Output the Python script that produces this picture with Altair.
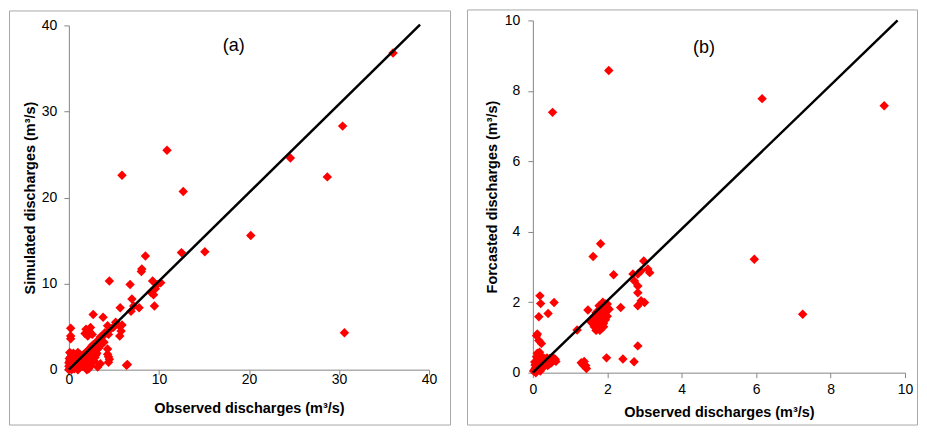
import altair as alt
import pandas as pd

# ---------------- data ----------------
# Panel (a): observed vs simulated discharges
a_obs = [36.0, 30.4, 30.6, 28.7, 24.6, 20.2, 15.1, 12.5, 12.7, 10.9, 5.9,
         8.5, 8.1, 8.05, 4.5, 6.8, 9.3, 9.8, 9.6, 10.2, 9.1, 9.4, 7.0, 9.5, 5.7, 7.8, 6.9, 7.2, 2.7, 3.8,
         5.2, 5.6, 5.8, 5.65, 5.0, 5.9, 4.3, 4.6, 4.0, 4.4, 4.9, 3.9, 3.5,
         0.2, 0.2, 0.2, 1.9, 2.4, 2.1, 2.6, 1.8, 2.3,
         3.2, 3.7, 3.9, 4.3, 3.0, 3.5, 2.8, 3.3, 2.6, 2.9, 3.1, 4.4, 4.5, 4.3, 4.4, 6.5, 6.4,
         0.1, 0.2, 0.3, 0.4, 0.5, 0.6, 0.7, 0.8, 0.9, 1.0, 1.1, 1.2, 1.3, 1.4, 1.5, 1.6, 1.7, 1.8, 1.9,
         2.0, 2.1, 2.2, 2.3, 2.4, 2.5, 2.7,
         0.1, 0.2, 0.1, 0.3, 0.5, 0.6, 0.8, 1.0, 1.2, 0.4, 0.7, 0.9,
         0.3, 0.6, 0.9, 1.2, 1.5, 1.8, 2.0, 2.2, 2.4, 2.6, 2.1, 1.7, 1.4, 1.1, 2.8, 2.5, 2.3, 1.9,
         2.6, 2.9, 3.0, 2.0, 2.2, 1.0,
         0.0, 0.0, 0.05, 0.0, 0.15, 3.5, 3.2]
a_sim = [36.8, 28.3, 4.3, 22.4, 24.6, 15.6, 13.7, 13.6, 20.7, 25.5, 22.6,
         13.2, 11.7, 11.4, 10.3, 9.9, 10.3, 9.9, 9.4, 10.1, 9.0, 8.7, 8.2, 7.4, 7.2, 7.2, 6.8, 7.4, 6.4, 6.1,
         5.5, 5.1, 4.5, 3.9, 5.0, 5.2, 5.1, 4.7, 4.3, 4.1, 4.9, 4.0, 3.8,
         4.8, 3.9, 3.6, 4.7, 4.9, 3.9, 4.1, 4.2, 4.4,
         3.4, 3.0, 3.2, 2.4, 3.0, 2.8, 2.6, 2.5, 2.2, 2.0, 1.9, 1.5, 1.2, 1.8, 0.85, 0.6, 0.5,
         0.1, 0.3, 0.2, 0.5, 0.3, 0.7, 0.5, 0.9, 0.6, 1.1, 0.8, 1.3, 1.0, 1.5, 1.2, 1.7, 1.4, 1.9, 1.6,
         2.1, 1.8, 2.3, 2.0, 2.5, 2.7, 2.9,
         1.0, 1.5, 2.0, 1.8, 1.9, 1.4, 1.7, 2.0, 1.8, 1.1, 1.2, 1.5,
         0.0, 0.1, 0.2, 0.3, 0.4, 0.5, 0.3, 0.6, 0.4, 0.8, 0.9, 0.8, 0.6, 0.5, 1.0, 1.3, 1.5, 1.1,
         1.6, 1.4, 1.7, 0.0, 0.1, 0.0,
         0.4, 0.8, 1.3, 0.0, 0.6, 0.7, 0.3]

# Panel (b): observed vs forecasted discharges
b_obs = [2.04, 0.53, 6.16, 9.44, 5.95, 7.25,
         1.82, 1.62, 2.98, 2.17, 2.69, 2.82, 2.73, 2.91, 3.09, 3.14, 2.82, 2.82, 2.91, 3.0, 2.82,
         2.36, 1.48, 1.19, 2.82, 1.98, 2.42, 2.72, 1.3, 1.38, 1.42, 1.44, 1.35,
         0.19, 0.21, 0.57, 0.41, 0.16, 0.12, 0.16, 0.23, 0.1,
         1.6, 1.65, 1.7, 1.75, 1.8, 1.85, 1.9, 1.95, 2.0, 1.6, 1.65, 1.7, 1.75, 1.8, 1.85, 1.9, 1.95,
         2.0, 2.05, 1.9, 1.8, 1.7, 1.75, 1.85, 1.95, 1.65, 1.8, 1.9, 1.55, 1.7, 1.85, 2.0, 1.78, 1.88, 1.72,
         0.02, 0.05, 0.08, 0.1, 0.12, 0.15, 0.18, 0.2, 0.22, 0.25, 0.28, 0.3, 0.33, 0.35, 0.38, 0.4,
         0.42, 0.45, 0.48, 0.5, 0.52, 0.55, 0.58, 0.6, 0.62, 0.15, 0.18, 0.1, 0.05, 0.08, 0.12, 0.18,
         0.25, 0.3, 0.35, 0.4, 0.45, 0.5, 0.2, 0.28, 0.12, 0.06]
b_fc = [8.58, 7.39, 7.78, 7.58, 3.22, 1.66,
        3.66, 3.3, 3.17, 2.78, 2.8, 2.8, 2.6, 2.89, 2.94, 2.84, 2.46, 2.27, 2.04, 1.99, 1.9,
        1.85, 1.78, 1.21, 0.76, 0.42, 0.39, 0.31, 0.28, 0.32, 0.2, 0.12, 0.22,
        2.18, 1.96, 1.99, 1.68, 1.59, 1.1, 0.91, 0.83, 1.05,
        1.4, 1.3, 1.2, 1.25, 1.3, 1.35, 1.4, 1.5, 1.6, 1.5, 1.6, 1.7, 1.75, 1.8, 1.85, 1.9, 1.95,
        1.85, 1.8, 1.7, 1.6, 1.5, 1.4, 1.55, 1.75, 1.45, 1.2, 1.3, 1.45, 1.35, 1.7, 1.95, 1.9, 2.0, 1.62,
        0.05, 0.1, 0.15, 0.2, 0.3, 0.25, 0.35, 0.4, 0.3, 0.45, 0.35, 0.4, 0.3, 0.38, 0.42, 0.3,
        0.35, 0.4, 0.3, 0.35, 0.4, 0.42, 0.35, 0.38, 0.32, 0.5, 0.58, 0.45, 0.3, 0.0, 0.08, 0.12,
        0.2, 0.22, 0.25, 0.2, 0.25, 0.28, 0.05, 0.15, 0.55, 0.22]

line_a_x = [0, 39.0]
line_a_y = [0, 40.1]
line_b_x = [0, 9.8]
line_b_y = [0, 10.0]

ticks_a = [0, 10, 20, 30, 40]
ticks_b = [0, 2, 4, 6, 8, 10]

# ---------------- styling ----------------
FONT = "Liberation Sans"
RED = "#FF0000"
AXIS_GRAY = "#868686"
FRAME_GRAY = "#A8A8A8"


def axis(ticks, title, label_pad, title_pad):
    return alt.Axis(values=ticks, grid=False, title=title,
                    domainColor=AXIS_GRAY, tickColor=AXIS_GRAY, tickSize=5,
                    labelFont=FONT, labelFontSize=14, labelColor="black",
                    labelPadding=label_pad, labelFlush=False, labelOverlap=False,
                    titleFont=FONT, titleFontSize=14.5, titleFontWeight="bold",
                    titleColor="black", titlePadding=title_pad)


def panel(obs, mod, lx, ly, dom, ticks, ytitle, label, label_xy, w, h, yrange,
          xlab_pad, xtitle_pad, ylab_pad, ytitle_pad, frame):
    pts = pd.DataFrame({"obs": obs, "mod": mod})
    ln = pd.DataFrame({"obs": lx, "mod": ly})
    xs = alt.Scale(domain=dom, nice=False, zero=False)
    if yrange is None:
        ys = alt.Scale(domain=dom, nice=False, zero=False)
    else:
        ys = alt.Scale(domain=dom, nice=False, zero=False, range=yrange)
    xenc = alt.X("obs:Q", scale=xs,
                 axis=axis(ticks, "Observed discharges (m³/s)", xlab_pad, xtitle_pad))
    yenc = alt.Y("mod:Q", scale=ys, axis=axis(ticks, ytitle, ylab_pad, ytitle_pad))

    fr = alt.Chart(pd.DataFrame({"f": [1]})).mark_rect(
        fill="white", fillOpacity=0, stroke=FRAME_GRAY, strokeWidth=1
    ).encode(x=alt.value(frame[0]), x2=alt.value(frame[1]),
             y=alt.value(frame[2]), y2=alt.value(frame[3]))

    points = alt.Chart(pts).mark_point(
        shape="diamond", filled=True, size=90, color=RED, opacity=1
    ).encode(x=xenc, y=yenc)

    line = alt.Chart(ln).mark_line(color="black", strokeWidth=2.5).encode(
        x="obs:Q", y="mod:Q")

    txt = alt.Chart(pd.DataFrame({"t": [label]})).mark_text(
        font=FONT, fontSize=18, color="black"
    ).encode(x=alt.datum(label_xy[0]), y=alt.datum(label_xy[1]), text="t:N")

    return alt.layer(fr, points, line, txt).properties(width=w, height=h)


pa = panel(a_obs, a_sim, line_a_x, line_a_y, [0, 40], ticks_a,
           "Simulated discharges (m³/s)", "(a)", (18.3, 37.6),
           361, 350, [350, 5], -2, 15, 7, 4, (-59.5, 382.5, -9.5, 405.5))
pb = panel(b_obs, b_fc, line_b_x, line_b_y, [0, 10], ticks_b,
           "Forcasted discharges (m³/s)", "(b)", (4.6, 9.23),
           373, 353, None, 5, 9, 8, 5, (-65.5, 385.5, -10.5, 405.5))

chart = alt.hconcat(pa, pb, spacing=104, bounds="flush").properties(
    padding=0, background="white"
).configure_view(stroke="transparent")

chart.save("out.html", embed_options={"renderer": "svg", "actions": False})
